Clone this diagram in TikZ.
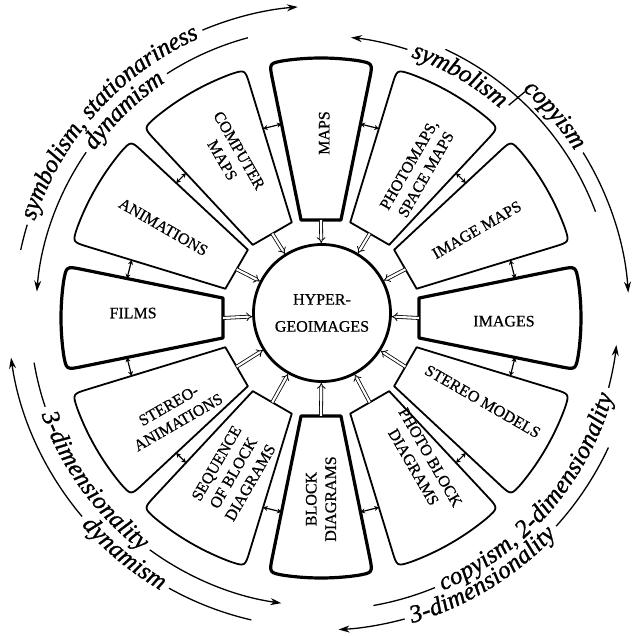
\documentclass[tikz,border=0pt]{standalone}
\usepackage{fontspec}
\setmainfont{Liberation Serif}
\newfontfamily\labfam{Liberation Serif}[FakeBold=1.2]
\newfontfamily\boxfam{Liberation Serif}[FakeBold=0.6]
\usetikzlibrary{arrows.meta,calc}
\newlength\chwd
\newlength\totwd
\newcommand\labfont{\labfam\fontsize{25}{25}\selectfont\itshape}
\newcommand\boxfont{\boxfam\fontsize{16}{19.5}\selectfont}
\newcommand\hubfont{\boxfam\fontsize{16}{27}\selectfont}
\def\Rin{100}
\def\Rout{260}
\def\Rcorn{16}
\def\Rgap{198}
\newcommand\wedgebox[4]{%
  \pgfmathsetmacro\wbA{#1-#2}%
  \pgfmathsetmacro\wbB{#1+#2}%
  \pgfmathsetmacro\wbD{\Rcorn/\Rout*180/pi}%
  \pgfmathsetmacro\wbAA{\wbA+\wbD}%
  \pgfmathsetmacro\wbBB{\wbB-\wbD}%
  \pgfmathsetmacro\wbR{\Rout-\Rcorn}%
  \pgfmathsetmacro\wbM{\Rin*cos(#2)}%
  \draw[#3] (\wbA:\Rin) -- (\wbA:\wbR) .. controls (\wbA:\Rout) .. (\wbAA:\Rout)
    arc[start angle=\wbAA, end angle=\wbBB, radius=\Rout pt]
    .. controls (\wbB:\Rout) .. (\wbB:\wbR) -- (\wbB:\Rin) -- cycle;
  \coordinate (#4-in) at (#1:\wbM);
  \coordinate (#4-l) at (\wbA:\Rgap);
  \coordinate (#4-r) at (\wbB:\Rgap);
}
\makeatletter
\newcommand\measurech{%
  \pgfinterruptpicture
    \setbox0=\hbox{\labfont\ch}\global\chwd=\wd0
  \endpgfinterruptpicture
}
% #1 radius, #2 centre angle, #3 direction (1 ccw, -1 cw), #4 text (spaces as ~)
\newcommand\arcword[4]{%
  \global\totwd=0pt
  \@tfor\ch:=#4\do{\measurech\global\advance\totwd by \chwd}%
  \pgfmathsetmacro\awA{#2-(#3)*(\totwd/2)/#1*180/pi}%
  \pgfmathsetmacro\awR{#1+(#3)*6}%
  \@tfor\ch:=#4\do{%
    \measurech
    \pgfmathsetmacro\awM{\awA+(#3)*(\chwd/2)/#1*180/pi}%
    \pgfmathsetmacro\awRot{\awM+(#3)*90}%
    \node[inner sep=0pt, anchor=base, rotate=\awRot, font=\labfont] at (\awM:\awR) {\ch};
    \pgfmathsetmacro\awA{\awA+(#3)*(\chwd)/#1*180/pi}%
  }%
}
\makeatother
% #1 radius, #2 start angle, #3 end angle, #4 text centre angle, #5 text,
% #6 style of first piece (drawn from text back to #2), #7 style of second piece
\newcommand\curvlab[7]{%
  \pgfmathsetmacro\cSg{(#3>#2)?1:-1}%
  \arcword{#1}{#4}{\cSg}{#5}%
  \pgfmathsetmacro\cHg{(\totwd/2+6)/#1*180/pi}%
  \pgfmathsetmacro\cLa{#4-(\cSg)*\cHg}%
  \pgfmathsetmacro\cLb{#4+(\cSg)*\cHg}%
  \draw[arcline,#6] (\cLa:#1) arc[start angle=\cLa, end angle=#2, radius=#1pt];
  \draw[arcline,#7] (\cLb:#1) arc[start angle=\cLb, end angle=#3, radius=#1pt];
}
\begin{document}
\begin{tikzpicture}[x=1pt,y=1pt,
  arcline/.style={line width=1.3pt},
  tipend/.style={arrows={-Stealth[length=11pt,width=7pt]}},
  cardbox/.style={line width=3.2pt, line join=round},
  subbox/.style={line width=1.8pt, line join=round},
  boxlabel/.style={font=\boxfont, align=center, inner sep=0pt},
  conn/.style={double, double distance=2.2pt, line width=0.8pt, arrows={-Implies}},
  gaparrow/.style={line width=1.2pt, arrows={Stealth[length=4.5pt,width=5pt]-Stealth[length=4.5pt,width=5pt]}},
]
\useasboundingbox (-322,-322) rectangle (310,314);
\fill[white] (-322,-322) rectangle (310,314);

\begin{scope}[shift={(-1,-4)}]
% sector boxes
\wedgebox{0}{11.5}{cardbox}{img}
\wedgebox{30}{13}{subbox}{imaps}
\wedgebox{60}{13}{subbox}{pmaps}
\wedgebox{90}{11.5}{cardbox}{maps}
\wedgebox{120}{13}{subbox}{cmaps}
\wedgebox{150}{13}{subbox}{anim}
\wedgebox{180}{11.5}{cardbox}{films}
\wedgebox{210}{13}{subbox}{sanim}
\wedgebox{240}{13}{subbox}{seq}
\wedgebox{270}{11.5}{cardbox}{block}
\wedgebox{300}{13}{subbox}{pblock}
\wedgebox{330}{13}{subbox}{smod}

% labels
\node[boxlabel, rotate=0]   (imgL)    at (-1:183)  {IMAGES};
\node[boxlabel, rotate=30]  (imapsL)  at (29.5:179) {IMAGE MAPS};
\node[boxlabel, rotate=60]  (pmapsL)  at (57:177)  {PHOTOMAPS,\\SPACE MAPS};
\node[boxlabel, rotate=90]  (mapsL)   at (89:185)  {MAPS};
\node[boxlabel, rotate=-60] (cmapsL)  at (119:186) {COMPUTER\\MAPS};
\node[boxlabel, rotate=-30] (animL)   at (150:182) {ANIMATIONS};
\node[boxlabel, rotate=0]   (filmsL)  at (178.5:188) {FILMS};
\node[boxlabel, rotate=30]  (sanimL)  at (213:176) {STEREO-\\ANIMATIONS};
\node[boxlabel, rotate=60]  (seqL)    at (240.5:178) {SEQUENCE\\OF BLOCK\\DIAGRAMS};
\node[boxlabel, rotate=90]  (blockL)  at (270:181) {BLOCK\\DIAGRAMS};
\node[boxlabel, rotate=-60] (pblockL) at (305:176) {PHOTO BLOCK\\DIAGRAMS};
\node[boxlabel, rotate=-30] (smodL)   at (332.7:182) {STEREO MODELS};
\end{scope}

% hub
\node[circle, draw, line width=2.8pt, minimum size=137pt, font=\hubfont, align=center] (hub) at (0,1) {HYPER-\\GEOIMAGES};

% connectors to hub
\foreach \n in {img,imaps,pmaps,maps,cmaps,anim,films,sanim,seq,block,pblock,smod}
  \draw[conn] (\n-in) -- (hub);

% arrows between neighbouring boxes
\draw[gaparrow] (img-r) -- (imaps-l);
\draw[gaparrow] (imaps-r) -- (pmaps-l);
\draw[gaparrow] (pmaps-r) -- (maps-l);
\draw[gaparrow] (maps-r) -- (cmaps-l);
\draw[gaparrow] (cmaps-r) -- (anim-l);
\draw[gaparrow] (anim-r) -- (films-l);
\draw[gaparrow] (films-r) -- (sanim-l);
\draw[gaparrow] (sanim-r) -- (seq-l);
\draw[gaparrow] (seq-r) -- (block-l);
\draw[gaparrow] (block-r) -- (pblock-l);
\draw[gaparrow] (pblock-r) -- (smod-l);
\draw[gaparrow] (smod-r) -- (img-l);

% outer curved labels
\curvlab{308}{168}{94.5}{138}{symbolism,~stationariness}{}{tipend}
\curvlab{286}{175.5}{105}{134.2}{dynamism}{tipend}{}
\curvlab{278}{84}{47}{60}{symbolism}{tipend}{draw=none}
\draw[arcline] (48.2:280) -- (47.6:301);
\curvlab{307}{49}{4}{40.5}{copyism}{draw=none}{tipend}
\draw[arcline] (65:292) arc[start angle=65, end angle=20.5, radius=292pt];
\curvlab{296}{-80}{-6}{-41}{copyism,~2-dimensionality}{}{tipend}
\curvlab{316}{-87}{-25}{-58.5}{3-dimensionality}{tipend}{}
\curvlab{314}{188}{257}{230.5}{dynamism}{tipend}{}
\curvlab{292}{189.6}{262}{216.2}{3-dimensionality}{}{tipend}
\end{tikzpicture}
\end{document}
